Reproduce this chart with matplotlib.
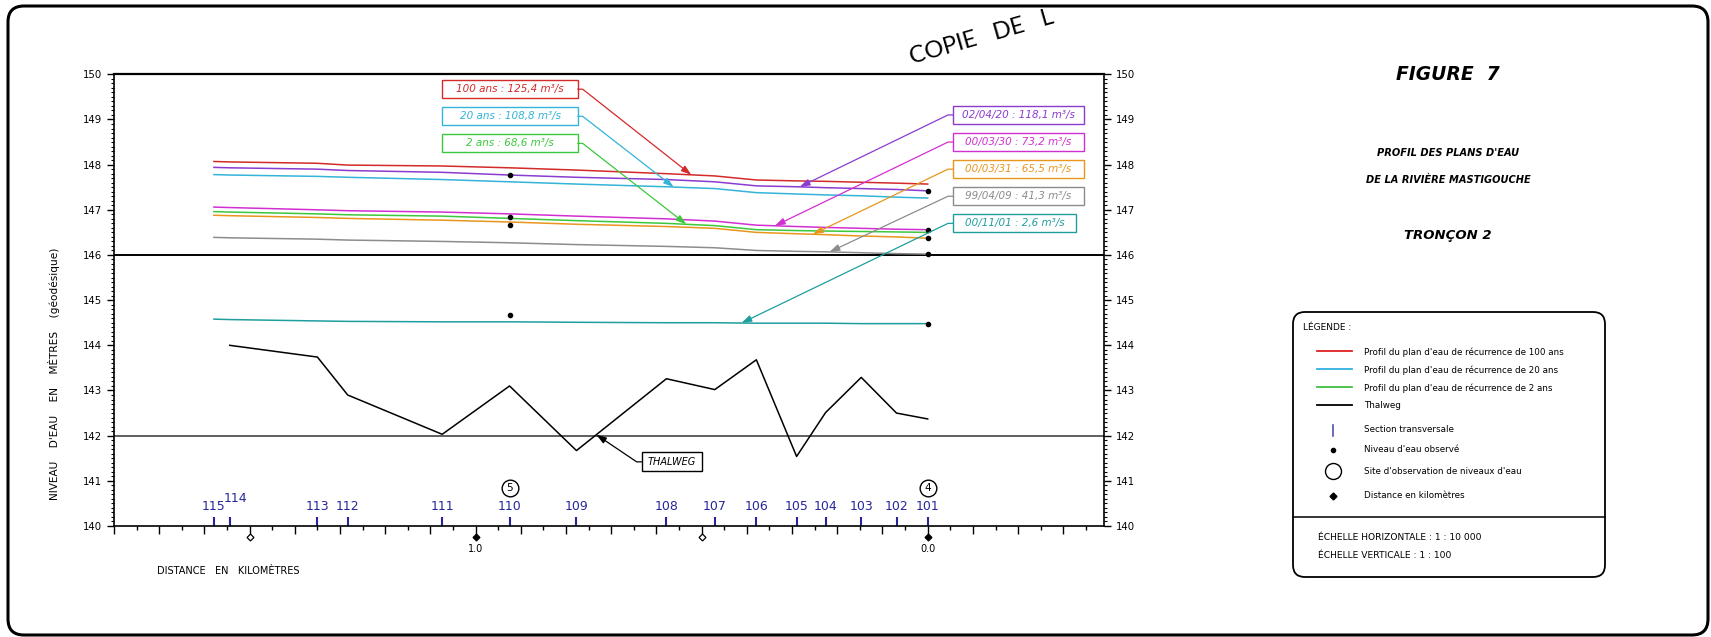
import matplotlib.pyplot as plt
from matplotlib.patches import FancyBboxPatch, Rectangle
from matplotlib.ticker import MultipleLocator
import numpy as np

# sections transversales et distance (km)
sections = ['115', '114', '113', '112', '111', '110', '109', '108',
            '107', '106', '105', '104', '103', '102', '101']
section_km = [1.579, 1.544, 1.350, 1.283, 1.074, 0.925, 0.777, 0.578,
              0.471, 0.379, 0.290, 0.226, 0.147, 0.069, 0.0]

# profils des plans d'eau (m)
prof_100 = [148.07, 148.06, 148.03, 147.99, 147.97, 147.93, 147.88, 147.80,
            147.75, 147.66, 147.64, 147.63, 147.61, 147.59, 147.57]
prof_20 = [147.78, 147.77, 147.74, 147.72, 147.67, 147.62, 147.57, 147.51,
           147.47, 147.38, 147.35, 147.33, 147.31, 147.28, 147.26]
prof_2 = [146.96, 146.95, 146.91, 146.89, 146.86, 146.81, 146.76, 146.70,
          146.65, 146.56, 146.54, 146.53, 146.52, 146.51, 146.50]
obs_020420 = [147.94, 147.93, 147.90, 147.87, 147.83, 147.77, 147.72, 147.67,
              147.62, 147.53, 147.51, 147.49, 147.47, 147.45, 147.42]
obs_000330 = [147.06, 147.05, 147.00, 146.98, 146.95, 146.91, 146.86, 146.80,
              146.75, 146.66, 146.63, 146.61, 146.59, 146.57, 146.56]
obs_000331 = [146.88, 146.87, 146.83, 146.81, 146.77, 146.73, 146.68, 146.63,
              146.59, 146.50, 146.47, 146.45, 146.42, 146.40, 146.37]
obs_990409 = [146.39, 146.38, 146.35, 146.33, 146.30, 146.27, 146.23, 146.19,
              146.16, 146.10, 146.08, 146.07, 146.05, 146.03, 146.02]
obs_001101 = [144.58, 144.57, 144.54, 144.53, 144.52, 144.52, 144.51, 144.50,
              144.50, 144.49, 144.49, 144.49, 144.48, 144.48, 144.48]
thalweg = [np.nan, 144.00, 143.74, 142.90, 142.03, 143.10, 141.67, 143.26,
           143.02, 143.68, 141.54, 142.51, 143.29, 142.50, 142.37]

# niveaux d'eau observés
obs_km = [0.925, 0.925, 0.925, 0.925, 0.0, 0.0, 0.0, 0.0, 0.0]
obs_m = [147.77, 146.84, 146.67, 144.67, 147.42, 146.56, 146.37, 146.02, 144.48]

# sites d'observation
site_km = [0.925, 0.0]
site_num = ['5', '4']

# repères de distance
km_marks = [1.5, 1.0, 0.5, 0.0]
km_filled = [False, True, False, True]
km_labels = ['', '1.0', '', '0.0']

profils = [prof_100, prof_20, prof_2, obs_020420, obs_000330, obs_000331,
           obs_990409, obs_001101]
couleurs = ['#d42a2a', '#33b4d8', '#3cc83c', '#8a3ccf', '#d22fd2', '#e8961e',
            '#8c8c8c', '#1f9e9e']
etiquettes = ['100 ans : 125,4 m³/s', '20 ans : 108,8 m³/s', '2 ans : 68,6 m³/s',
              '02/04/20 : 118,1 m³/s', '00/03/30 : 73,2 m³/s',
              '00/03/31 : 65,5 m³/s', '99/04/09 : 41,3 m³/s',
              '00/11/01 : 2,6 m³/s']
pointes_km = [0.523, 0.562, 0.534, 0.283, 0.338, 0.254, 0.217, 0.412]
thalweg_pointe = 0.733

W, H = 1711, 637
fig = plt.figure(figsize=(W / 100, H / 100), dpi=100)

# fond : cadre, titres, légende (coordonnées en pixels)
bg = fig.add_axes([0, 0, 1, 1])
bg.set_xlim(0, W)
bg.set_ylim(H, 0)
bg.axis('off')

bg.add_patch(FancyBboxPatch((8, 6), 1700, 629, boxstyle='round,pad=0,rounding_size=16',
                            fc='none', ec='black', lw=2.2))
bg.text(912, 64, 'COPIE   DE   L', rotation=16, rotation_mode='anchor', fontsize=17,
        family='Lato', fontweight='normal', color='black', ha='left', va='baseline')

titre = dict(family='DejaVu Sans', fontweight='bold', style='italic', ha='center', va='center')
bg.text(1448, 75, 'FIGURE  7', fontsize=13.5, **titre)
bg.text(1448, 153, "PROFIL DES PLANS D'EAU", fontsize=7.1, **titre)
bg.text(1448, 180, 'DE LA RIVIÈRE MASTIGOUCHE', fontsize=7.1, **titre)
bg.text(1448, 236, 'TRONÇON 2', fontsize=9.5, **titre)

bg.add_patch(FancyBboxPatch((1293, 312), 312, 265, boxstyle='round,pad=0,rounding_size=12',
                            fc='none', ec='black', lw=1.3))
bg.plot([1293, 1605], [517, 517], color='black', lw=1.1)
bg.text(1303, 327, 'LÉGENDE :', fontsize=6.5, va='center')
leg_y = [351, 369, 387, 405]
leg_col = ['#e02020', '#30b0e0', '#40c040', 'black']
leg_txt = ["Profil du plan d'eau de récurrence de 100 ans",
           "Profil du plan d'eau de récurrence de 20 ans",
           "Profil du plan d'eau de récurrence de 2 ans",
           'Thalweg']
for y, c, t in zip(leg_y, leg_col, leg_txt):
    bg.plot([1317, 1352], [y, y], color=c, lw=1.3)
    bg.text(1364, y + 1, t, fontsize=6.3, va='center')
bg.plot([1333, 1333], [425, 436], color='#5050b0', lw=1.2)
bg.text(1364, 430, 'Section transversale', fontsize=6.3, va='center')
bg.plot(1333, 450, 'o', color='black', ms=3)
bg.text(1364, 450, "Niveau d'eau observé", fontsize=6.3, va='center')
bg.plot(1333, 471, 'o', mfc='none', mec='black', ms=11.5, mew=1)
bg.text(1364, 472, "Site d'observation de niveaux d'eau", fontsize=6.3, va='center')
bg.plot(1333, 496, 'D', color='black', ms=3.5)
bg.text(1364, 496, 'Distance en kilomètres', fontsize=6.3, va='center')
bg.text(1318, 537, 'ÉCHELLE HORIZONTALE : 1 : 10 000', fontsize=6.6, va='center')
bg.text(1318, 556, 'ÉCHELLE VERTICALE : 1 : 100', fontsize=6.6, va='center')

bg.text(54, 374, "NIVEAU    D'EAU    EN    MÈTRES    (géodésique)", rotation=90,
        fontsize=7.6, ha='center', va='center')
bg.text(157, 571, 'DISTANCE   EN   KILOMÈTRES', fontsize=7, va='center')

# graphique principal
ax = fig.add_axes([114 / W, 1 - 526 / H, 990 / W, (526 - 74.3) / H])
ax.set_xlim(1.8, -0.39)
ax.set_ylim(140, 150)
for s in ax.spines.values():
    s.set_linewidth(1.2)
ax.spines['top'].set_linewidth(1.6)

ax.yaxis.set_major_locator(MultipleLocator(1))
ax.yaxis.set_minor_locator(MultipleLocator(0.1))
ax.xaxis.set_major_locator(MultipleLocator(0.1))
ax.xaxis.set_minor_locator(MultipleLocator(0.05))
ax.tick_params(axis='y', which='both', left=True, right=True, labelleft=True,
               labelright=True, labelsize=7.3, direction='out')
ax.tick_params(axis='y', which='major', length=5, width=1)
ax.tick_params(axis='y', which='minor', length=2.5, width=0.8)
ax.tick_params(axis='x', which='both', labelbottom=False, direction='out')
ax.tick_params(axis='x', which='major', length=6, width=1)
ax.tick_params(axis='x', which='minor', length=3, width=1)

ax.axhline(146, color='black', lw=1.4)
ax.axhline(142, color='#444444', lw=1.2)

for prof, col in zip(profils, couleurs):
    ax.plot(section_km, prof, color=col, lw=1.1)
ax.plot(section_km, thalweg, color='black', lw=1.1)
ax.plot(obs_km, obs_m, 'o', color='black', ms=3, zorder=5)

# sections transversales
bleu = '#26269c'
ax.vlines(section_km, 140, 140.2, color=bleu, lw=1.5)
for sec, x in zip(sections, section_km):
    if sec == '114':
        ax.text(x - 0.012, 140.6, sec, color=bleu, fontsize=9, ha='center', va='center')
    else:
        ax.text(x, 140.43, sec, color=bleu, fontsize=9, ha='center', va='center')

for x, n in zip(site_km, site_num):
    ax.plot(x, 140.85, 'o', mfc='white', mec='black', ms=12, mew=1)
    ax.text(x, 140.85, n, fontsize=7.5, ha='center', va='center')

for x, f, lab in zip(km_marks, km_filled, km_labels):
    ax.plot(x, 139.75, 'D', mfc='black' if f else 'white', mec='black', ms=3.5,
            mew=0.9, clip_on=False)
    if lab:
        ax.text(x, 139.5, lab, fontsize=7, ha='center', va='center')

# étiquettes des débits
box_droite_km = [0.7743] * 3 + [-0.346, -0.346, -0.346, -0.346, -0.329]
box_larg_km = [0.2994] * 3 + [0.29, 0.29, 0.29, 0.29, 0.273]
box_m = [149.67, 149.07, 148.47, 149.1, 148.5, 147.9, 147.3, 146.7]
cote = ['g', 'g', 'g', 'd', 'd', 'd', 'd', 'd']
km_inv = section_km[::-1]
for i in range(len(profils)):
    col = couleurs[i]
    x0, w, ym = box_droite_km[i], box_larg_km[i], box_m[i]
    ax.add_patch(Rectangle((x0, ym - 0.2), w, 0.4, fc='white', ec=col, lw=1, zorder=6))
    ax.text(x0 + w / 2, ym, etiquettes[i], color=col, fontsize=7.5, style='italic',
            ha='center', va='center', zorder=7)
    tip = (pointes_km[i], np.interp(pointes_km[i], km_inv, profils[i][::-1]))
    if cote[i] == 'g':
        start, ang = (x0, ym), 0
    else:
        start, ang = (x0 + w, ym), 180
    ax.annotate('', xy=tip, xytext=start, zorder=6,
                arrowprops=dict(arrowstyle='-|>,head_length=0.6,head_width=0.2',
                                color=col, lw=0.9, mutation_scale=10,
                                shrinkA=0, shrinkB=0,
                                connectionstyle=f'arc,angleA={ang},armA=5,armB=0,rad=0'))

# étiquette du thalweg
ax.add_patch(Rectangle((0.499, 141.22), 0.1337, 0.41, fc='white', ec='black', lw=1, zorder=6))
ax.text(0.566, 141.42, 'THALWEG', fontsize=7, style='italic', ha='center', va='center', zorder=7)
tip = (thalweg_pointe, np.interp(thalweg_pointe, km_inv, thalweg[::-1]))
ax.annotate('', xy=tip, xytext=(0.6327, 141.42),
            arrowprops=dict(arrowstyle='-|>,head_length=0.6,head_width=0.2',
                            color='black', lw=0.9, mutation_scale=10, shrinkA=0, shrinkB=0,
                            connectionstyle='arc,angleA=180,armA=5,armB=0,rad=0'))

fig.savefig('out.png', dpi=100)
